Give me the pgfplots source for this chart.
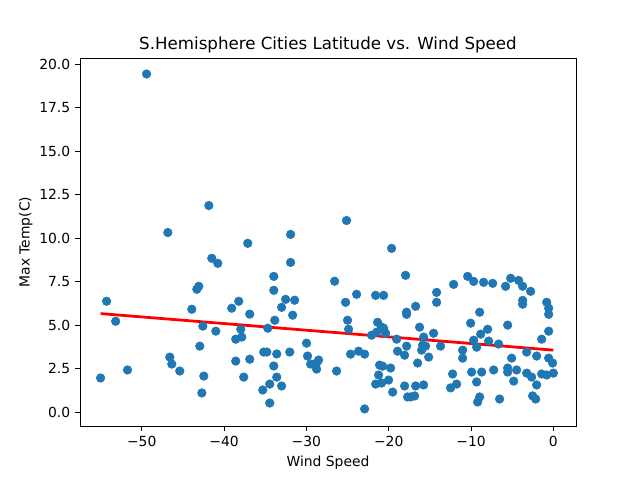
\documentclass[border=0pt]{standalone}
\usepackage{pgfplots}
\pgfplotsset{compat=1.18}
\usepackage{fontspec}
\setmainfont{DejaVu Sans}
\definecolor{mplblue}{HTML}{1F77B4}
\begin{document}
\begin{tikzpicture}
\path[use as bounding box] (-57.6pt,-38.88pt) rectangle (403.2pt,306.72pt);
\begin{axis}[
  at={(0,0)}, anchor=south west,
  scale only axis, width=357.12pt, height=264.96pt,
  xmin=-57.5, xmax=2.75, ymin=-0.79, ymax=20.36,
  axis line style={black, line width=0.6pt},
  tick align=outside, tick pos=left,
  major tick length=3.5pt,
  every tick/.style={black, line width=0.6pt},
  xtick={-50,-40,-30,-20,-10,0},
  xticklabels={−50,−40,−30,−20,−10,0},
  ytick={0,2.5,5,7.5,10,12.5,15,17.5,20},
  yticklabels={0.0,2.5,5.0,7.5,10.0,12.5,15.0,17.5,20.0},
  tick label style={font=\fontsize{10}{12}\selectfont},
  xlabel={Wind Speed}, ylabel={Max Temp(C)},
  label style={font=\fontsize{10}{12}\selectfont},
  title={S.Hemisphere Cities Latitude vs. Wind Speed},
  title style={font=\fontsize{12}{14}\selectfont, yshift=-6pt},
  xlabel style={yshift=0pt},
  ylabel style={yshift=-2pt},
]
\addplot[only marks, mark=*, mark size=3.1pt, mark options={fill=mplblue, draw=mplblue}] coordinates {
(-55.0,1.97) (-54.27,6.38) (-53.17,5.23) (-51.73,2.43) (-49.42,19.44)
(-46.83,10.33) (-46.59,3.17) (-46.35,2.77) (-45.38,2.37) (-43.92,5.92)
(-43.31,7.07) (-43.07,7.24) (-42.95,3.80) (-42.58,4.95) (-42.70,1.11)
(-42.46,2.08) (-41.85,11.88) (-41.49,8.85) (-40.76,8.56) (-41.00,4.66)
(-39.07,5.98) (-38.22,6.38) (-38.58,4.20) (-37.85,4.32) (-37.97,4.77)
(-38.58,2.94) (-37.61,2.02) (-37.12,9.71) (-36.88,5.64) (-36.88,3.05)
(-31.92,10.22) (-25.12,11.02) (-19.65,9.42) (-31.92,8.61) (-33.96,7.81)
(-33.96,7.01) (-17.95,7.87) (-26.57,7.53) (-32.52,6.49) (-31.43,6.44)
(-33.01,6.03) (-23.90,6.78) (-25.24,6.32) (-21.59,6.72) (-20.62,6.72)
(-31.67,5.58) (-33.84,5.29) (-34.69,4.83) (-17.83,5.75) (-17.83,5.63)
(-25.00,5.29) (-24.87,4.77) (-21.35,5.17) (-20.86,4.89) (-20.62,4.83)
(-22.08,4.43) (-21.47,4.60) (-20.38,4.54) (-19.04,4.20) (-17.83,3.80)
(-18.92,3.51) (-18.07,3.28) (-35.18,3.46) (-34.81,3.46) (-33.60,3.35)
(-32.02,3.46) (-33.96,2.66) (-33.60,2.02) (-34.45,1.62) (-35.30,1.28)
(-33.01,1.51) (-34.45,0.53) (-29.98,3.97) (-29.86,3.23) (-29.49,2.77)
(-28.76,2.83) (-28.52,3.00) (-28.76,2.48) (-26.33,2.37) (-24.63,3.34)
(-23.66,3.51) (-22.93,3.34) (-22.93,0.19) (-21.11,2.71) (-20.74,2.65)
(-19.77,2.54) (-21.23,2.14) (-20.01,1.85) (-20.86,1.68) (-21.59,1.62)
(-19.52,1.16) (-18.07,1.51) (-17.71,0.88) (-16.73,6.09) (-14.18,6.89)
(-14.18,6.32) (-12.12,7.35) (-10.41,7.81) (-9.68,7.52) (-8.47,7.47)
(-7.37,7.41) (-5.80,7.24) (-5.19,7.70) (-4.22,7.58) (-3.73,7.24)
(-2.76,6.95) (-3.73,6.43) (-3.73,6.21) (-0.81,6.32) (-0.57,5.98)
(-0.57,5.63) (-8.95,5.75) (-16.25,4.89) (-14.55,4.54) (-13.70,3.80)
(-15.76,4.32) (-15.88,3.86) (-15.52,3.80) (-16.00,3.57) (-15.15,3.17)
(-16.49,2.83) (-10.05,5.12) (-11.02,3.57) (-11.02,3.11) (-9.68,4.14)
(-9.32,3.74) (-8.83,4.49) (-7.98,4.77) (-7.86,4.09) (-6.65,3.92)
(-5.55,5.01) (-3.24,3.46) (-2.03,3.23) (-1.42,4.20) (-0.57,4.66)
(-0.57,3.11) (-0.09,2.83) (0.00,2.25) (-5.07,3.11) (-5.55,2.54)
(-5.55,2.31) (-4.46,2.43) (-4.82,1.79) (-3.24,2.25) (-2.64,2.02)
(-2.03,1.57) (-1.42,2.20) (-0.81,2.14) (-2.52,0.94) (-2.15,0.76)
(-6.53,0.76) (-12.24,2.20) (-9.93,2.31) (-8.71,2.31) (-9.32,1.74)
(-7.25,2.43) (-8.95,0.88) (-9.20,0.59) (-12.48,1.40) (-11.75,1.62)
(-16.73,1.51) (-15.76,1.57) (-17.34,0.88) (-16.85,0.94)
};
\addplot[red, line width=2pt] coordinates {(-55.0,5.67) (0.0,3.57)};
\end{axis}
\end{tikzpicture}
\end{document}
